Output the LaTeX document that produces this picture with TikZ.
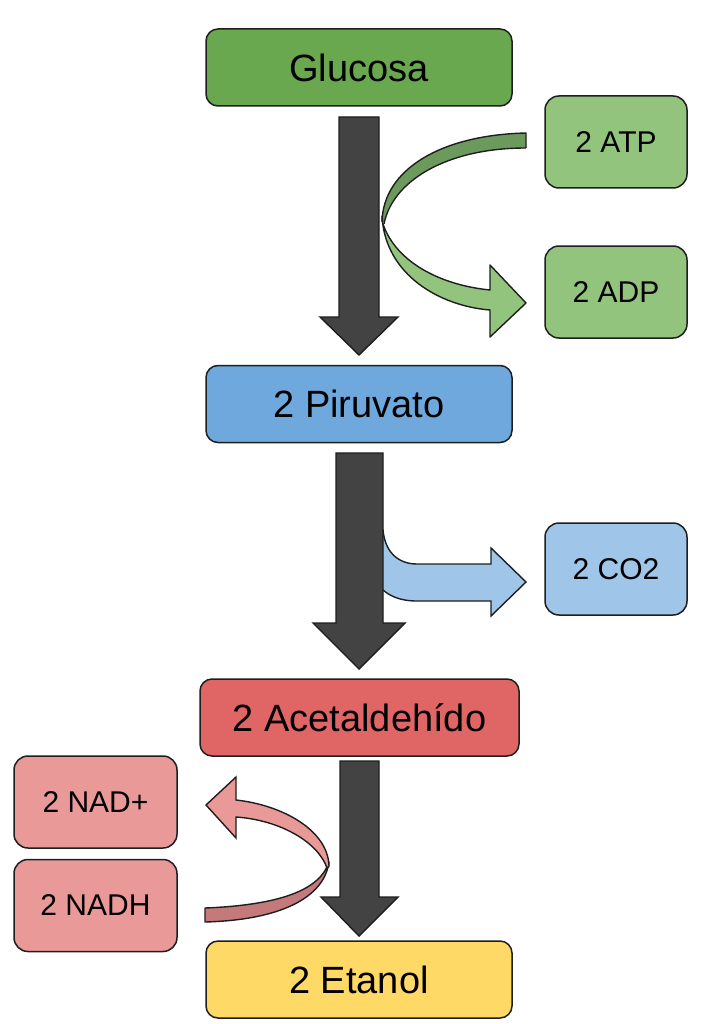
\documentclass[tikz,border=0pt]{standalone}
\usepackage{fontspec}
\setmainfont{Liberation Sans}
\definecolor{gBig}{HTML}{6AA84F}
\definecolor{gSmall}{HTML}{93C47D}
\definecolor{gDark}{HTML}{6C9A5C}
\definecolor{bBig}{HTML}{6FA8DC}
\definecolor{bSmall}{HTML}{9FC5E8}
\definecolor{rBig}{HTML}{E06666}
\definecolor{rSmall}{HTML}{EA9999}
\definecolor{rDark}{HTML}{C47A7A}
\definecolor{yBig}{HTML}{FFD966}
\definecolor{arrowGray}{HTML}{434343}
\definecolor{edge}{HTML}{1E1E1E}
\tikzset{
  bigbox/.style={draw=edge, line width=1.5pt, rounded corners=12pt, minimum width=306pt, minimum height=77pt, inner sep=0pt, font=\fontsize{38}{40}\selectfont},
  smallbox/.style={draw=edge, line width=1.5pt, rounded corners=14pt, minimum width=142pt, minimum height=92pt, inner sep=0pt, font=\fontsize{30}{32}\selectfont},
  blockarrow/.style={draw=edge, line width=1.4pt, fill=arrowGray, line join=miter},
  ribbon/.style={draw=edge, line width=1.4pt, line join=round}
}
\begin{document}
\begin{tikzpicture}[x=1pt,y=-1pt]
\useasboundingbox[fill=white] (0,0) rectangle (705,1024);

% boxes
\node[bigbox, fill=gBig] (glu) at (359,67.5) {Glucosa};
\node[bigbox, fill=bBig] (pir) at (359,404) {2 Piruvato};
\node[bigbox, fill=rBig, minimum width=319pt] (ace) at (359.5,717.5) {2 Acetaldehído};
\node[bigbox, fill=yBig] (eta) at (359,979.5) {2 Etanol};
\node[smallbox, fill=gSmall] (atp) at (616,142) {2 ATP};
\node[smallbox, fill=gSmall] (adp) at (616,292) {2 ADP};
\node[smallbox, fill=bSmall] (co2) at (616,569) {2 CO2};
\node[smallbox, fill=rSmall, minimum width=163pt] (nadp) at (95.5,802) {2 NAD+};
\node[smallbox, fill=rSmall, minimum width=163pt] (nadh) at (95.5,905.5) {2 NADH};

% green ribbon ATP -> ADP
\fill[gDark] (526,133) .. controls (440,135) and (383,170) .. (382,222)
  -- (384,222) .. controls (392,182) and (445,148) .. (526,148) -- cycle;
\draw[ribbon] (526,148) -- (526,133) .. controls (440,135) and (383,170) .. (382,222);
\draw[ribbon] (384,224) .. controls (392,182) and (445,148) .. (526,148);
\draw[ribbon, fill=gSmall] (382,216) .. controls (385,275) and (440,306) .. (490,310)
  -- (490,337) -- (526,303) -- (490,265) -- (490,290)
  .. controls (440,285) and (396,262) .. (383,224) -- cycle;

% dark arrow 1
\draw[blockarrow] (339,117) -- (379,117) -- (379,317) -- (398,317) -- (359,355)
  -- (320,317) -- (339,317) -- cycle;

% blue arrow (behind arrow 2)
\draw[ribbon, fill=bSmall, line join=miter] (370,530) -- (383,530)
  .. controls (385,552) and (398,564) .. (417,564) -- (491,564) -- (491,548)
  -- (526,582) -- (491,616) -- (491,601) -- (417,601)
  .. controls (400,601) and (390,596) .. (383,590) -- (370,590) -- cycle;

% dark arrow 2
\draw[blockarrow] (336,453) -- (383,453) -- (383,623) -- (405,623) -- (359,669)
  -- (313,623) -- (336,623) -- cycle;

% dark arrow 3
\draw[blockarrow] (340,761) -- (379,761) -- (379,897) -- (398,897) -- (359,936)
  -- (321,897) -- (340,897) -- cycle;

% pink ribbon NADH -> NAD+
\draw[ribbon, fill=rDark] (205,908) .. controls (280,905) and (320,890) .. (329,862)
  .. controls (324,898) and (280,920) .. (205,922) -- cycle;
\draw[ribbon, fill=rSmall, line join=miter] (329,866) .. controls (328,830) and (282,805) .. (236,800)
  -- (236,777) -- (206,805) -- (236,838) -- (236,817)
  .. controls (280,820) and (318,842) .. (327,868) -- cycle;
\end{tikzpicture}
\end{document}
